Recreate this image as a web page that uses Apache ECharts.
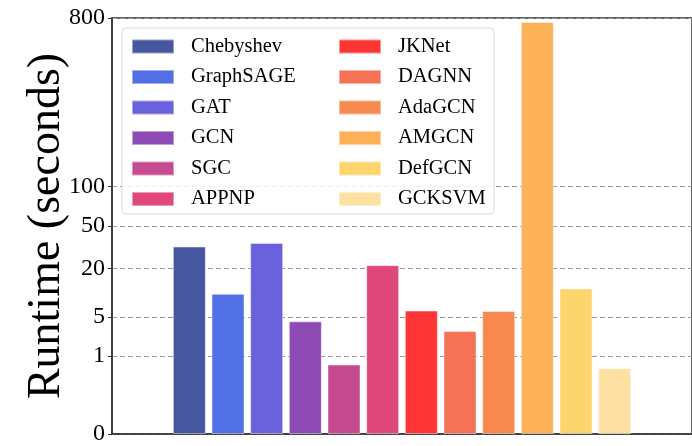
<!DOCTYPE html>
<html>
<head>
<meta charset="utf-8">
<script src="https://cdn.jsdelivr.net/npm/echarts@6/dist/echarts.min.js"></script>
<style>html,body{margin:0;padding:0;background:#fff;}#c{width:692px;height:446px;}</style>
</head>
<body>
<div id="c"></div>
<script>
// ---- data ----
const models = ['Chebyshev','GraphSAGE','GAT','GCN','SGC','APPNP','JKNet','DAGNN','AdaGCN','AMGCN','DefGCN','GCKSVM'];
const runtimes = [33, 10.3, 35.6, 4.3, 0.62, 21.7, 6.2, 3.0, 6.1, 770, 12.0, 0.5];
const colors = ['#4756A1','#5170E6','#6A62DC','#8E4BB6','#C54A8F','#E0477B','#FE3535','#F57256','#F8894E','#FDB25A','#FED46C','#FEE0A3'];
const yTicks = [0, 1, 5, 20, 50, 100, 800];
const padBefore = ['_p0','_p1'];
const padAfter = ['_p2','_p3'];

const P = 0.25; // fourth-root scale
const tr = v => Math.pow(v, P);
const inv = v => Math.pow(v, 1 / P);
const cats = padBefore.concat(models, padAfter);
const FONT = "'Liberation Serif','Times New Roman',serif";

const series = models.map((m, i) => ({
  name: m,
  type: 'bar',
  barWidth: 33,
  barGap: '-100%',
  itemStyle: { color: colors[i], borderColor: 'rgba(255,255,255,0.45)', borderWidth: 1 },
  data: cats.map((c, j) => (j === i + padBefore.length ? tr(runtimes[i]) : '-'))
}));

const chart = echarts.init(document.getElementById('c'), null, { renderer: 'canvas' });
chart.setOption({
  animation: false,
  backgroundColor: '#fff',
  grid: { left: 112, top: 18, bottom: 10, right: -4, show: true, borderColor: '#333', borderWidth: 1.5, backgroundColor: 'transparent' },
  xAxis: {
    type: 'category', data: cats, boundaryGap: false,
    axisLine: { show: true, lineStyle: { color: '#333', width: 1.5 } },
    axisTick: { show: false }, axisLabel: { show: false }, splitLine: { show: false }
  },
  yAxis: {
    type: 'value', min: 0, max: tr(yTicks[yTicks.length - 1]),
    name: 'Runtime (seconds)', nameLocation: 'middle', nameGap: 42, nameMoveOverlap: false,
    nameTextStyle: { fontFamily: FONT, fontSize: 46, color: '#000' },
    axisLine: { show: true, lineStyle: { color: '#333', width: 1.5 } },
    axisTick: { show: true, inside: false, length: 4, customValues: yTicks.map(tr), lineStyle: { color: '#333' } },
    axisLabel: { customValues: yTicks.map(tr), margin: 7, fontFamily: FONT, fontSize: 24, color: '#000',
      formatter: v => String(Math.round(inv(v))) },
    splitLine: { show: true, lineStyle: { color: '#9a9a9a', type: [5, 3], width: 1.2 } }
  },
  legend: [
    { data: models.slice(0, 6), orient: 'vertical', left: 131, top: 36, padding: 0, itemGap: 9.5,
      itemWidth: 42, itemHeight: 14, icon: 'rect',
      textStyle: { fontFamily: FONT, fontSize: 20.5, color: '#000', padding: [0, 0, 0, 12] } },
    { data: models.slice(6), orient: 'vertical', left: 338, top: 36, padding: 0, itemGap: 9.5,
      itemWidth: 42, itemHeight: 14, icon: 'rect',
      textStyle: { fontFamily: FONT, fontSize: 20.5, color: '#000', padding: [0, 0, 0, 12] } }
  ],
  graphic: [{
    type: 'rect', z: 3, silent: true,
    shape: { x: 122, y: 28, width: 372, height: 186, r: 4 },
    style: { fill: 'rgba(255,255,255,0.85)', stroke: '#d9d9d9', lineWidth: 1 }
  }],
  series: series
});
</script>
</body>
</html>
